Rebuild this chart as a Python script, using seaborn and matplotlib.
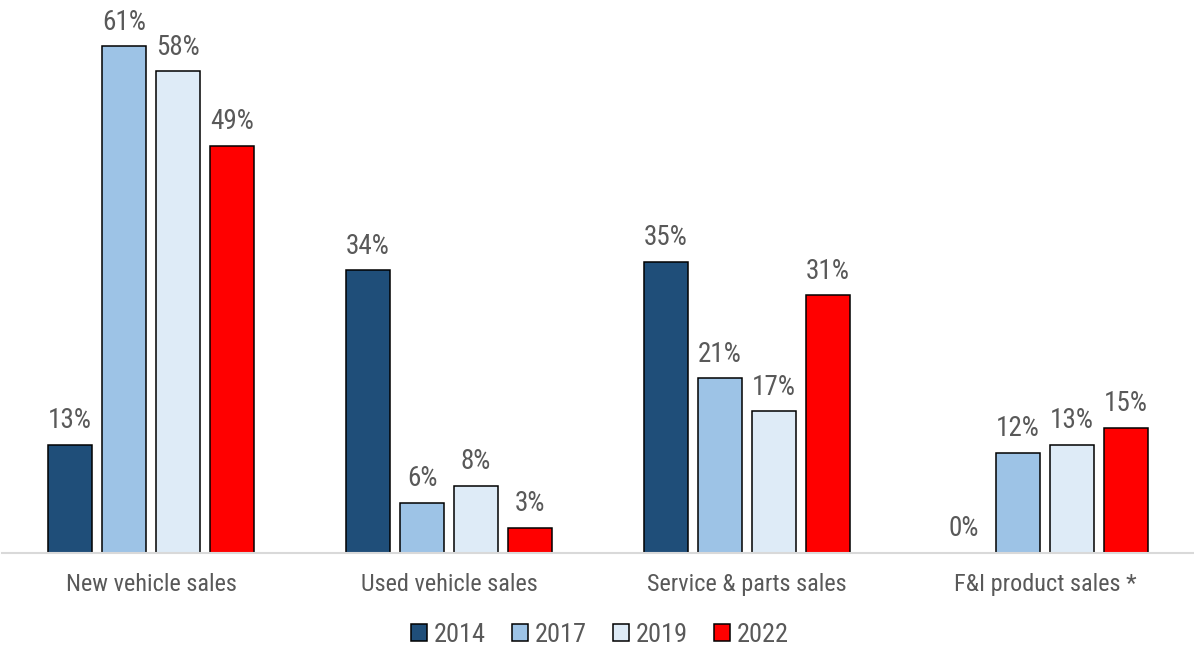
import matplotlib
matplotlib.use("Agg")
import matplotlib.pyplot as plt
import seaborn as sns
import pandas as pd
from matplotlib.patches import Patch

# Revenue share by department, per survey year
categories = ["New vehicle sales", "Used vehicle sales", "Service & parts sales", "F&I product sales *"]
years = ["2014", "2017", "2019", "2022"]
share_2014 = [13, 34, 35, 0]
share_2017 = [61, 6, 21, 12]
share_2019 = [58, 8, 17, 13]
share_2022 = [49, 3, 31, 15]

colors = ["#1F4E79", "#9DC3E6", "#DEEBF7", "#FF0000"]
text_gray = "#595959"

rows = []
for year, vals in zip(years, [share_2014, share_2017, share_2019, share_2022]):
    for cat, v in zip(categories, vals):
        rows.append({"category": cat, "year": year, "share": v})
df = pd.DataFrame(rows)

sns.set_style("white")
plt.rcParams["font.family"] = ["Liberation Sans Narrow", "Roboto Condensed", "Liberation Sans", "DejaVu Sans"]

fig = plt.figure(figsize=(11.94, 6.49), dpi=100)
ax = fig.add_axes([2 / 1194, 96.5 / 649, 1 - 2 / 1194, 1 - 96.5 / 649])

sns.barplot(
    data=df, x="category", y="share", hue="year",
    order=categories, hue_order=years, palette=colors,
    width=0.7245, gap=0.19, edgecolor="black", linewidth=1.1,
    saturation=1, errorbar=None, legend=False, ax=ax,
)

for container in ax.containers:
    for bar in container:
        h = bar.get_height()
        ax.annotate(
            f"{h:.0f}%",
            xy=(bar.get_x() + bar.get_width() / 2, h),
            xytext=(0, 12), textcoords="offset points",
            ha="center", va="baseline", fontsize=19.5, color=text_gray,
        )

ax.set_xlim(-0.5, 3.5)
ax.set_ylim(0, 66.6)
ax.set_xlabel("")
ax.set_ylabel("")
ax.set_yticks([])
for side in ["top", "left", "right"]:
    ax.spines[side].set_visible(False)
ax.spines["bottom"].set_color("#D9D9D9")
ax.spines["bottom"].set_linewidth(1.5)
ax.tick_params(axis="x", length=0, pad=15, labelsize=17.5, labelcolor=text_gray)

handles = [Patch(facecolor=c, edgecolor="black", linewidth=1.1) for c in colors]
fig.legend(
    handles, years, loc="center", bbox_to_anchor=(600 / 1194, 1 - 635 / 649),
    ncol=4, frameon=False, fontsize=19, handlelength=0.6, handleheight=0.6,
    handletextpad=0.25, columnspacing=1.0, labelcolor=text_gray,
)

fig.savefig("out.png", dpi=100)
